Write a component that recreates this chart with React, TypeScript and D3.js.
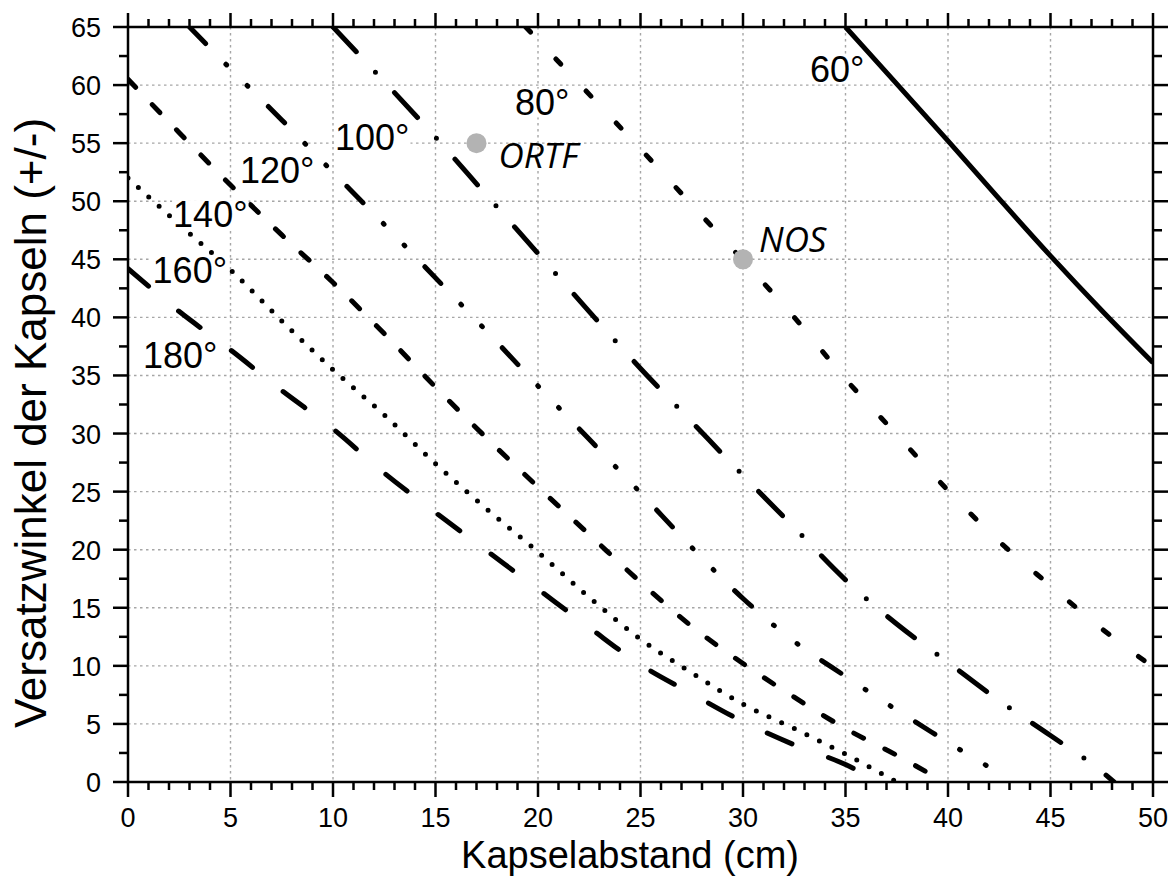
import React from 'react';
import * as d3 from 'd3';

// recording angle curves: Kapselabstand (cm) -> Versatzwinkel (+/-)
const angleLabels = ['60°', '80°', '100°', '120°', '140°', '160°', '180°'];

const spacing60 = [35, 37.5, 40, 42.5, 45, 47.5, 50];
const offset60 = [65, 60.1, 55.2, 50.2, 45.3, 40.6, 36.1];

const spacing80 = [19.4, 22.5, 25, 27.5, 30, 32.5, 35, 37.5, 40, 42.5, 45, 47.5, 50];
const offset80 = [65, 59.2, 54.5, 49.7, 44.9, 40.0, 34.7, 29.9, 25.1, 20.7, 16.9, 13.2, 9.9];

const spacing100 = [10, 12.5, 15, 17.5, 20, 22.5, 25, 27.5, 30, 32.5, 35, 37.5, 40, 42.5, 45, 47.5, 48.1];
const offset100 = [65, 60.3, 55.5, 50.5, 45.5, 40.5, 35.6, 31.0, 26.4, 21.9, 17.4, 13.6, 10.3, 7.0, 4.0, 0.9, 0];

const spacing120 = [3, 5, 7.5, 10, 12.5, 15, 17.5, 20, 22.5, 25, 27.5, 30, 32.5, 35, 37.5, 40, 42.5, 42.9];
const offset120 = [65, 61.4, 57.0, 52.5, 48.0, 43.4, 38.8, 34.1, 29.5, 24.9, 20.2, 15.8, 12.1, 9.1, 6.2, 3.4, 0.6, 0];

const spacing140 = [0, 2.5, 5, 7.5, 10, 12.5, 15, 17.5, 20, 22.5, 25, 27.5, 30, 32.5, 35, 37.5, 39.8];
const offset140 = [60.5, 55.9, 51.4, 47.1, 43.0, 38.6, 34.0, 29.6, 25.4, 21.3, 17.2, 13.4, 10.2, 7.3, 4.6, 2.3, 0];

const spacing160 = [0, 2.5, 5, 7.5, 10, 12.5, 15, 17.5, 20, 22.5, 25, 27.5, 30, 32.5, 35, 37.5];
const offset160 = [52, 48, 44.1, 39.7, 35.5, 31.6, 27.4, 23.5, 19.8, 15.9, 12.3, 9.4, 6.7, 4.6, 2.4, 0];

const spacing180 = [0, 2.5, 5, 7.5, 10, 12.5, 15, 17.5, 20, 22.5, 25, 27.5, 30, 32.5, 35, 36.6];
const offset180 = [44.2, 40.5, 37.2, 33.7, 30.4, 26.6, 23.2, 19.9, 16.6, 13.3, 10.1, 7.6, 5.2, 3.2, 1.5, 0];

const micNames = ['ORTF', 'NOS'];
const micSpacing = [17, 30];
const micOffset = [55, 45];

const W = 1173;
const H = 877;
const left = 128, right = 1153, top = 27, bottom = 782;
const FONT = 'Liberation Sans, Arial, sans-serif';

export default function App() {
  const x = d3.scaleLinear().domain([0, 50]).range([left, right]);
  const y = d3.scaleLinear().domain([0, 65]).range([bottom, top]);

  const curves = [
    { xs: spacing60, ys: offset60, dash: 'none' },
    { xs: spacing80, ys: offset80, dash: '7 37' },
    { xs: spacing100, ys: offset100, dash: '34 28 0 28' },
    { xs: spacing120, ys: offset120, dash: '23 29 1 29 1 29' },
    { xs: spacing140, ys: offset140, dash: '11 24' },
    { xs: spacing160, ys: offset160, dash: '0 14' },
    { xs: spacing180, ys: offset180, dash: '27 39' },
  ];

  // label anchors in data units (left edge, baseline)
  const labelPos = [
    [33.27, 60.3], [18.88, 57.4], [10.1, 54.4], [5.46, 51.6],
    [2.2, 47.8], [1.2, 43.0], [0.73, 35.6],
  ];
  // text offsets from the marker, px
  const micTextOffset = [[22, 25], [16, -7]];

  const line = d3.line<[number, number]>()
    .x(d => x(d[0]))
    .y(d => y(d[1]))
    .curve(d3.curveMonotoneX);

  const xMajor = d3.range(0, 51, 5);
  const xMinor = d3.range(0, 51, 1).filter(v => v % 5 !== 0);
  const yMajor = d3.range(0, 66, 5);
  const yMinor = d3.range(2.5, 65, 5);

  const fs = 36;

  return (
    <svg width={W} height={H} style={{ position: 'absolute', left: 0, top: 0, background: '#fff' }}>
      <defs>
        <clipPath id="plot">
          <rect x={left} y={top} width={right - left} height={bottom - top} />
        </clipPath>
      </defs>
      <rect width={W} height={H} fill="#fff" />

      {/* grid */}
      <g stroke="#a6a6a6" strokeWidth={1.4} strokeDasharray="2.5 3.5">
        {xMajor.slice(1, -1).map(v => (
          <line key={'gx' + v} x1={x(v)} x2={x(v)} y1={top} y2={bottom} />
        ))}
        {yMajor.slice(1, -1).map(v => (
          <line key={'gy' + v} x1={left} x2={right} y1={y(v)} y2={y(v)} />
        ))}
      </g>

      {/* curves */}
      <g clipPath="url(#plot)" fill="none" stroke="#000" strokeWidth={5} strokeLinecap="round">
        {curves.map((c, i) => (
          <path
            key={angleLabels[i]}
            d={line(c.xs.map((v, j) => [v, c.ys[j]] as [number, number])) || ''}
            strokeDasharray={c.dash}
            strokeLinecap={i === 0 ? 'butt' : 'round'}
          />
        ))}
      </g>

      {/* curve labels */}
      {angleLabels.map((t, i) => {
        const lx = x(labelPos[i][0]);
        const ly = y(labelPos[i][1]);
        const w = fs * (0.556 * (t.length - 1) + 0.4);
        return (
          <g key={'lab' + t}>
            <rect x={lx - 1} y={ly - fs * 0.74} width={w + 2} height={fs * 0.8} fill="#fff" />
            <text x={lx} y={ly} fontFamily={FONT} fontSize={fs} fill="#000">{t}</text>
          </g>
        );
      })}

      {/* microphone setups */}
      {micNames.map((n, i) => (
        <g key={n}>
          <circle cx={x(micSpacing[i])} cy={y(micOffset[i])} r={10} fill="#b3b3b3" />
          <text
            x={x(micSpacing[i]) + micTextOffset[i][0]}
            y={y(micOffset[i]) + micTextOffset[i][1]}
            fontFamily="Open Sans, sans-serif"
            fontStyle="italic"
            fontSize={35}
            fill="#000"
          >
            {n}
          </text>
        </g>
      ))}

      {/* frame */}
      <rect x={left} y={top} width={right - left} height={bottom - top} fill="none" stroke="#000" strokeWidth={2.5} />

      {/* ticks */}
      <g stroke="#000" strokeWidth={2.5}>
        {xMajor.map(v => (
          <g key={'xt' + v}>
            <line x1={x(v)} x2={x(v)} y1={bottom} y2={bottom + 15} />
            <line x1={x(v)} x2={x(v)} y1={top} y2={top - 14} />
          </g>
        ))}
        {xMinor.map(v => (
          <g key={'xm' + v}>
            <line x1={x(v)} x2={x(v)} y1={bottom} y2={bottom + 8} />
            <line x1={x(v)} x2={x(v)} y1={top} y2={top - 8} />
          </g>
        ))}
        {yMajor.map(v => (
          <g key={'yt' + v}>
            <line x1={left} x2={left - 15} y1={y(v)} y2={y(v)} />
            <line x1={right} x2={right + 15} y1={y(v)} y2={y(v)} />
          </g>
        ))}
        {yMinor.map(v => (
          <g key={'ym' + v}>
            <line x1={left} x2={left - 9} y1={y(v)} y2={y(v)} />
            <line x1={right} x2={right + 9} y1={y(v)} y2={y(v)} />
          </g>
        ))}
      </g>

      {/* tick labels */}
      <g fontFamily={FONT} fontSize={27} fill="#000">
        {xMajor.map(v => (
          <text key={'xl' + v} x={x(v)} y={bottom + 45} textAnchor="middle">{v}</text>
        ))}
        {yMajor.map(v => (
          <text key={'yl' + v} x={left - 27} y={y(v) + 10} textAnchor="end">{v}</text>
        ))}
      </g>

      {/* axis titles */}
      <text x={630} y={868} textAnchor="middle" fontFamily={FONT} fontSize={38} fill="#000">
        Kapselabstand (cm)
      </text>
      <text
        transform={`translate(46, ${423}) rotate(-90)`}
        textAnchor="middle"
        fontFamily={FONT}
        fontSize={44}
        fill="#000"
      >
        Versatzwinkel der Kapseln (+/-)
      </text>
    </svg>
  );
}
